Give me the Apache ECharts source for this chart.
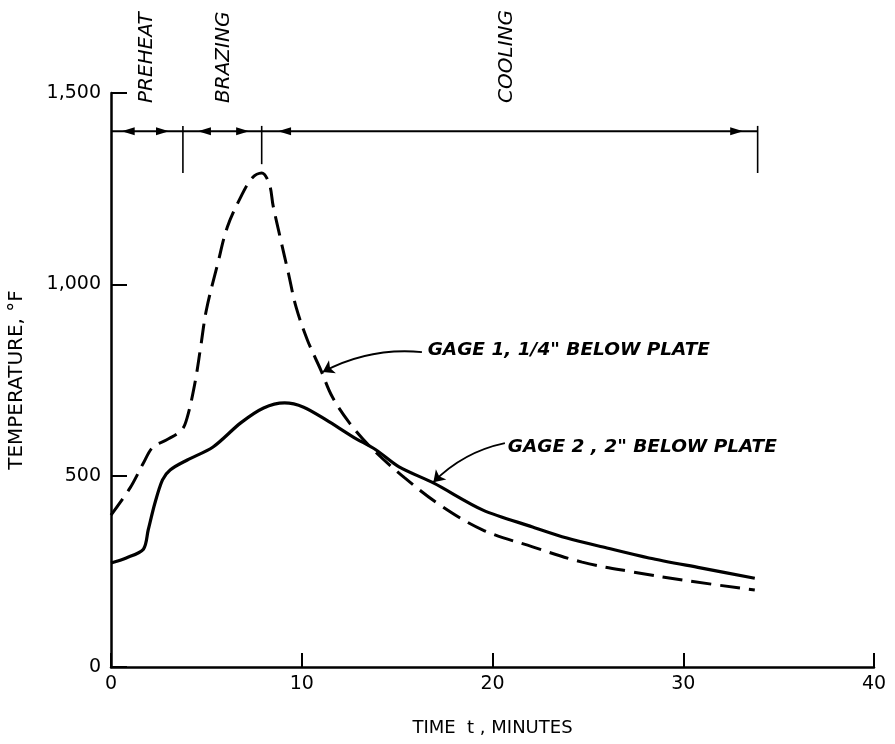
<!DOCTYPE html>
<html>
<head>
<meta charset="utf-8">
<script src="https://cdn.jsdelivr.net/npm/echarts@6/dist/echarts.min.js"></script>
<style>
  html, body { margin: 0; padding: 0; background: #fff; }
  #chart { width: 895px; height: 744px; }
</style>
</head>
<body>
<div id="chart"></div>
<script>
// gage 1 (dashed), 1/4" below plate
const gage1Time = [0, 1.0, 1.7, 2.2, 2.9, 3.7, 4.0, 4.4, 4.7, 5.0, 5.6, 6.1, 6.8, 7.4, 7.9, 8.3, 8.5, 8.9, 9.3, 9.7, 10.3, 11.0, 11.6, 12.5, 13.6, 15.4, 17.4, 19.5, 22.1, 24.7, 27.4, 30.0, 33.75];
const gage1Temp = [397, 468, 533, 575, 593, 619, 653, 742, 836, 933, 1055, 1150, 1228, 1278, 1291, 1262, 1205, 1116, 1029, 941, 854, 776, 706, 638, 575, 494, 418, 358, 314, 274, 248, 227, 201];

// gage 2 (solid), 2" below plate
const gage2Time = [0, 0.8, 1.7, 1.95, 2.3, 2.7, 3.1, 4.0, 5.35, 6.8, 8.0, 9.1, 10.1, 11.3, 12.7, 13.9, 15.1, 16.9, 19.5, 22.1, 23.9, 26.0, 28.2, 30.9, 33.75];
const gage2Temp = [272, 285, 308, 358, 428, 489, 515, 541, 575, 638, 677, 690, 679, 645, 601, 567, 523, 481, 410, 366, 337, 311, 285, 259, 232];

// phase bar across the top
const phaseLevel = 1400;
const phaseBounds = [0, 3.77, 7.9, 33.9];
const dividerTop = 1414;
const dividerBottom = [1291, 1314, 1291];   // for bounds 1..3
const phaseNames = ['PREHEAT', 'BRAZING', 'COOLING'];
const phaseLabelTime = [1.9, 5.9, 20.75];
const phaseLabelTemp = 1474;
// arrow heads: [time, pointing left?]
const arrowTime = [0.9, 2.7, 4.9, 6.9, 9.1, 32.8];
const arrowLeft = [true, false, true, false, true, false];

// callouts
const calloutText = ['GAGE 1, 1/4" BELOW PLATE', 'GAGE 2 , 2" BELOW PLATE'];
const calloutAt = [[16.6, 828], [20.8, 575]];
const leaderFrom = [[16.3, 823], [20.65, 585]];
const leaderTo = [[11.1, 771], [16.9, 483]];

const xTicks = [0, 10, 20, 30, 40];
const yTicks = [0, 500, 1000, 1500];

const ink = '#000';
const font = 'DejaVu Sans';

const zip = (a, b) => a.map((v, i) => [v, b[i]]);

let series = [
    {
        name: 'Gage 1',
        type: 'line',
        data: zip(gage1Time, gage1Temp),
        smooth: 0.35,
        showSymbol: false,
        lineStyle: { color: ink, width: 3, type: [20, 9] }
    },
    {
        name: 'Gage 2',
        type: 'line',
        data: zip(gage2Time, gage2Temp),
        smooth: 0.3,
        showSymbol: false,
        lineStyle: { color: ink, width: 3.2 }
    },
    {
        name: 'phase',
        type: 'line',
        data: [[phaseBounds[0], phaseLevel], [phaseBounds[3], phaseLevel]],
        showSymbol: false,
        clip: false,
        lineStyle: { color: ink, width: 2.2 }
    }
];

// dividers
phaseBounds.slice(1).forEach((t, i) => {
    series.push({
        type: 'line',
        data: [[t, dividerTop], [t, dividerBottom[i]]],
        showSymbol: false,
        clip: false,
        lineStyle: { color: ink, width: 1.6 }
    });
});

// arrowheads
series.push({
    type: 'scatter',
    clip: false,
    data: arrowTime.map((t, i) => ({
        value: [t, phaseLevel],
        symbolRotate: arrowLeft[i] ? 90 : -90
    })),
    symbol: 'triangle',
    symbolSize: [8, 13],
    itemStyle: { color: ink, opacity: 1 }
});

// phase labels
series.push({
    type: 'scatter',
    clip: false,
    symbolSize: 0,
    itemStyle: { opacity: 1 },
    data: phaseNames.map((n, i) => ({ name: n, value: [phaseLabelTime[i], phaseLabelTemp] })),
    label: {
        show: true,
        formatter: '{b}',
        position: [0, 0],
        rotate: 90,
        align: 'left',
        verticalAlign: 'middle',
        color: ink,
        opacity: 1,
        fontFamily: font,
        fontStyle: 'italic',
        fontSize: 20
    }
});

// callout labels
series.push({
    type: 'scatter',
    clip: false,
    symbolSize: 0,
    itemStyle: { opacity: 1 },
    data: calloutText.map((n, i) => ({ name: n, value: calloutAt[i] })),
    label: {
        show: true,
        formatter: '{b}',
        position: [0, 0],
        align: 'left',
        verticalAlign: 'middle',
        color: ink,
        opacity: 1,
        fontFamily: font,
        fontStyle: 'italic',
        fontWeight: 'bold',
        fontSize: 18.5
    }
});

// leader arrows
series.push({
    type: 'lines',
    coordinateSystem: 'cartesian2d',
    data: leaderFrom.map((f, i) => ({ coords: [f, leaderTo[i]] })),
    symbol: ['none', 'arrow'],
    symbolSize: 11,
    lineStyle: { color: ink, width: 1.8, curveness: -0.15, opacity: 1 }
});

let option = {
    animation: false,
    backgroundColor: '#fff',
    grid: { left: 111, right: 21, top: 93, bottom: 77, containLabel: false, outerBoundsMode: 'none' },
    xAxis: {
        type: 'value',
        min: xTicks[0],
        max: xTicks[xTicks.length - 1],
        interval: 10,
        name: 'TIME  t , MINUTES',
        nameLocation: 'middle',
        nameGap: 52,
        nameTextStyle: { color: ink, fontFamily: font, fontSize: 18 },
        axisLine: { lineStyle: { color: ink, width: 2.5 } },
        axisTick: { inside: true, length: 14, lineStyle: { color: ink, width: 2 } },
        axisLabel: { color: ink, fontFamily: font, fontSize: 19, margin: 8 },
        splitLine: { show: false }
    },
    yAxis: {
        type: 'value',
        min: yTicks[0],
        max: yTicks[yTicks.length - 1],
        interval: 500,
        name: 'TEMPERATURE, °F',
        nameLocation: 'middle',
        nameGap: 84,
        nameRotate: 90,
        nameTextStyle: { color: ink, fontFamily: font, fontSize: 20 },
        axisLine: { show: true, lineStyle: { color: ink, width: 2.5 } },
        axisTick: { show: true, inside: true, length: 16, lineStyle: { color: ink, width: 2 } },
        axisLabel: {
            color: ink, fontFamily: font, fontSize: 19, margin: 10,
            formatter: v => v.toLocaleString('en-US')
        },
        splitLine: { show: false }
    },
    series: series
};

let chart = echarts.init(document.getElementById('chart'));
chart.setOption(option);
</script>
</body>
</html>
